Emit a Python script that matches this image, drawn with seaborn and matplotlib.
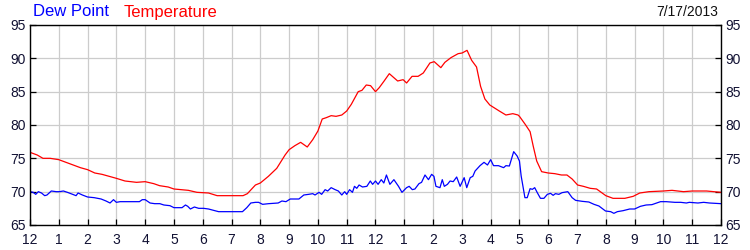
import matplotlib
matplotlib.use("Agg")
import matplotlib.pyplot as plt
import seaborn as sns
import pandas as pd

# ---- data (hours since midnight, degrees F) ----
temp_hours = [0, 0.25, 0.45, 0.7, 1.0, 1.25, 1.5, 1.75, 2.0, 2.25, 2.5, 2.75, 3.0, 3.3, 3.7,
              4.0, 4.3, 4.5, 4.8, 5.0, 5.5, 5.8, 6.2, 6.5, 7.0, 7.4, 7.55, 7.7, 7.83, 8.0,
              8.28, 8.57, 8.86, 9.0, 9.2, 9.4, 9.63, 9.82, 10.0, 10.15, 10.29, 10.46, 10.63,
              10.83, 11.0, 11.16, 11.4, 11.53, 11.68, 11.83, 12.0, 12.13, 12.3, 12.48, 12.77,
              12.96, 13.08, 13.27, 13.48, 13.66, 13.89, 14.04, 14.27, 14.41, 14.62, 14.87,
              15.01, 15.18, 15.34, 15.51, 15.65, 15.8, 15.97, 16.3, 16.53, 16.77, 16.95, 17.0,
              17.2, 17.37, 17.48, 17.6, 17.77, 18.0, 18.23, 18.46, 18.65, 18.83, 19.02, 19.22,
              19.46, 19.68, 20.0, 20.25, 20.66, 20.95, 21.18, 21.5, 22.0, 22.3, 22.7, 23.0,
              23.5, 24.0]
temp_values = [75.9, 75.5, 75.0, 75.0, 74.8, 74.4, 74.0, 73.6, 73.3, 72.8, 72.6, 72.3, 72.0, 71.6, 71.4,
               71.5, 71.2, 70.9, 70.7, 70.4, 70.2, 69.9, 69.8, 69.4, 69.4, 69.4, 69.7, 70.4, 71.0, 71.3,
               72.3, 73.5, 75.5, 76.3, 76.9, 77.4, 76.7, 77.8, 79.1, 80.9, 81.1, 81.4, 81.3,
               81.5, 82.1, 83.1, 85.0, 85.2, 86.0, 85.9, 85.0, 85.6, 86.6, 87.7, 86.6,
               86.8, 86.3, 87.3, 87.3, 87.8, 89.3, 89.5, 88.6, 89.4, 90.1, 90.7,
               90.8, 91.2, 89.7, 88.7, 85.8, 83.9, 83.0, 82.1, 81.5, 81.7, 81.5, 81.3,
               80.1, 79.0, 76.8, 74.6, 73.0, 72.8, 72.7, 72.5, 72.5, 71.9, 71.0, 70.8,
               70.5, 70.4, 69.4, 69.0, 69.0, 69.3, 69.8, 70.0, 70.1, 70.2, 70.0, 70.1,
               70.1, 69.9]

dew_hours = [0, 0.11, 0.2, 0.29, 0.4, 0.51, 0.59, 0.74, 0.91, 1.02, 1.16, 1.3, 1.48, 1.6, 1.67,
             1.82, 2.0, 2.23, 2.47, 2.64, 2.78, 2.9, 3.0, 3.13, 3.27, 3.56, 3.8, 3.9, 4.0, 4.17,
             4.33, 4.51, 4.65, 4.86, 5.0, 5.28, 5.4, 5.48, 5.57, 5.71, 5.86, 6.03, 6.2, 6.37,
             6.55, 7.0, 7.38, 7.53, 7.67, 7.83, 7.94, 8.08, 8.29, 8.62, 8.75, 8.89, 9.04, 9.34,
             9.51, 9.68, 9.82, 9.9, 10.04, 10.13, 10.25, 10.34, 10.46, 10.6, 10.71, 10.83,
             10.93, 11.0, 11.1, 11.2, 11.27, 11.35, 11.43, 11.55, 11.7, 11.82, 11.9, 12.0,
             12.09, 12.2, 12.29, 12.38, 12.5, 12.64, 12.8, 12.92, 13.08, 13.17, 13.28, 13.37,
             13.51, 13.6, 13.72, 13.84, 13.95, 14.03, 14.1, 14.24, 14.32, 14.39, 14.5, 14.59,
             14.7, 14.82, 14.94, 15.08, 15.17, 15.29, 15.38, 15.46, 15.63, 15.77, 15.89, 16.0,
             16.1, 16.27, 16.45, 16.53, 16.65, 16.8, 16.92, 17.0, 17.06, 17.13, 17.19, 17.27,
             17.37, 17.45, 17.53, 17.62, 17.73, 17.85, 17.97, 18.08, 18.17, 18.25, 18.37,
             18.48, 18.6, 18.68, 18.83, 18.95, 19.18, 19.41, 19.59, 19.76, 19.99, 20.17,
             20.28, 20.4, 20.6, 20.83, 21.0, 21.2, 21.4, 21.6, 21.7, 21.9, 22.1, 22.4, 22.6,
             22.8, 22.9, 23.2, 23.4, 23.6, 24.0]
dew_values = [70.0, 69.9, 69.6, 70.0, 69.8, 69.4, 69.5, 70.1, 70.0, 70.0, 70.1, 69.9, 69.6, 69.4, 69.8,
              69.5, 69.2, 69.1, 68.9, 68.6, 68.3, 68.8, 68.4, 68.5, 68.5, 68.5, 68.5, 68.8, 68.8, 68.3,
              68.2, 68.2, 68.0, 67.9, 67.6, 67.6, 68.0, 67.8, 67.4, 67.7, 67.5, 67.5, 67.4, 67.2,
              67.0, 67.0, 67.0, 67.6, 68.3, 68.4, 68.4, 68.1, 68.2, 68.3, 68.6, 68.5, 68.9, 68.9,
              69.5, 69.6, 69.7, 69.5, 69.9, 69.6, 70.3, 70.1, 70.6, 70.3, 70.1, 69.5,
              70.0, 69.6, 70.3, 69.9, 70.8, 70.5, 71.0, 70.7, 70.8, 71.6, 71.1, 71.6,
              71.1, 71.8, 71.3, 72.5, 71.1, 71.8, 70.8, 69.9, 70.6, 70.8, 70.3, 70.4,
              71.2, 71.4, 72.5, 71.8, 72.6, 72.3, 70.8, 70.6, 71.8, 70.8, 71.1, 71.6,
              71.5, 72.2, 70.8, 72.1, 70.6, 72.1, 72.3, 73.1, 73.9, 74.4, 74.0, 74.8,
              73.9, 73.9, 73.6, 73.9, 73.85, 76.0, 75.35, 74.6, 72.35, 70.6, 69.1, 69.1,
              70.45, 70.35, 70.6, 69.85, 69.0, 69.0, 69.6, 69.75, 69.45, 69.7, 69.6,
              69.85, 69.95, 70.0, 69.1, 68.7, 68.55, 68.45, 68.1, 67.85, 67.1, 67.0,
              66.75, 67.0, 67.15, 67.4, 67.4, 67.8, 68.0, 68.05, 68.2, 68.5, 68.5, 68.4, 68.4,
              68.3, 68.4, 68.3, 68.4, 68.3, 68.2]

x_tick_labels = ["12", "1", "2", "3", "4", "5", "6", "7", "8", "9", "10", "11",
                 "12", "1", "2", "3", "4", "5", "6", "7", "8", "9", "10", "11", "12"]
y_ticks = [65, 70, 75, 80, 85, 90, 95]
date_label = "7/17/2013"

sns.set_theme(style="white")
plt.rcParams['font.family'] = ['Liberation Sans', 'DejaVu Sans']

fig = plt.figure(figsize=(7.5, 2.5), dpi=100)
ax = fig.add_axes([0.04, 0.1, 0.9213, 0.8])

temp_df = pd.DataFrame({"hour": temp_hours, "value": temp_values})
dew_df = pd.DataFrame({"hour": dew_hours, "value": dew_values})

sns.lineplot(data=temp_df, x="hour", y="value", ax=ax, color="#ff0000", linewidth=0.9,
             estimator=None, sort=False)
sns.lineplot(data=dew_df, x="hour", y="value", ax=ax, color="#0000ff", linewidth=0.9,
             estimator=None, sort=False)

ax.set_xlim(0, 24)
ax.set_ylim(65, 95)
ax.set_xticks(range(0, 25))
ax.set_xticklabels(x_tick_labels)
ax.set_yticks(y_ticks)
ax.set_xlabel("")
ax.set_ylabel("")
ax.grid(True, color="#cccccc", linewidth=0.9)
for s in ax.spines.values():
    s.set_color("black")
    s.set_linewidth(1.0)
ax.tick_params(axis="both", direction="in", length=4, width=0.9, color="black",
               labelsize=10, labelcolor="#111133")
ax.tick_params(axis="y", left=True, right=True, labelleft=True, labelright=True, pad=3)
ax.tick_params(axis="x", bottom=True, top=False, pad=6)

fig.text(0.044, 0.952, "Dew Point", color="#0000ff", fontsize=12, va="center", ha="left")
fig.text(0.165, 0.952, "Temperature", color="#ff0000", fontsize=12, va="center", ha="left")
fig.text(0.957, 0.952, date_label, color="#111111", fontsize=10, va="center", ha="right")

fig.savefig("out.png", dpi=100, facecolor="white")
